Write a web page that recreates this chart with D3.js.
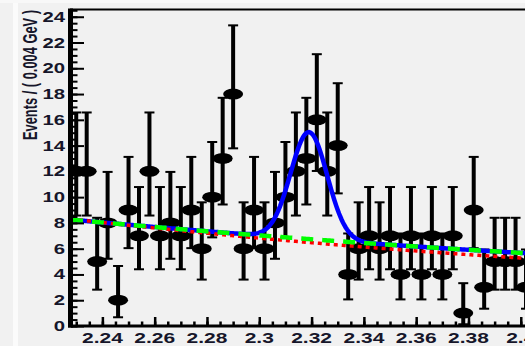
<!DOCTYPE html>
<html>
<head>
<meta charset="utf-8">
<script src="https://cdn.jsdelivr.net/npm/d3@7"></script>
<style>
body { margin: 0; background: #f1f1f1; }
svg { display: block; }
text { font-family: "Liberation Sans", Arial, sans-serif; font-weight: bold; fill: #16162a; }
</style>
</head>
<body>
<svg id="chart" width="525" height="346"></svg>
<script>
// bin centres in GeV (4 MeV bins)
var massBins = [2.230, 2.234, 2.238, 2.242, 2.246, 2.250, 2.254, 2.258, 2.262, 2.266,
                2.270, 2.274, 2.278, 2.282, 2.286, 2.290, 2.294, 2.298, 2.302, 2.306,
                2.310, 2.314, 2.318, 2.322, 2.326, 2.330, 2.334, 2.338, 2.342, 2.346,
                2.350, 2.354, 2.358, 2.362, 2.366, 2.370, 2.374, 2.378, 2.382, 2.386,
                2.390, 2.394, 2.398, 2.402];
// events per bin
var counts = [12, 12, 5, 8, 2, 9, 7, 12, 7, 8,
              7, 9, 6, 10, 13, 18, 6, 9, 6, 8,
              10, 12, 13, 16, 12, 14, 4, 6, 7, 6,
              7, 4, 7, 4, 7, 4, 7, 1, 9, 3,
              5, 5, 5, 3];

var xTicks = [2.24, 2.26, 2.28, 2.30, 2.32, 2.34, 2.36, 2.38, 2.40, 2.42];
var xTickLabels = ["2.24", "2.26", "2.28", "2.3", "2.32", "2.34", "2.36", "2.38", "2.4", "2.42"];
var yTicks = [0, 2, 4, 6, 8, 10, 12, 14, 16, 18, 20, 22, 24];
var yTickLabels = ["0", "2", "4", "6", "8", "10", "12", "14", "16", "18", "20", "22", "24"];

// fit results: gaussian signal on top of a 2nd order background
var sigMean = 2.319, sigWidth = 0.0070, sigAmp = 8.3;
var bgTotal = [8.25, -18.3, 19.3];   // background under the full fit (green)
var bgOnly = [8.3, -22.7, 29.8];     // background-only hypothesis (red)

var width = 525, height = 346;
var svg = d3.select("#chart");

var x_scale = d3.scaleLinear().domain([2.228, 2.428]).range([71, 594]);
var y_scale = d3.scaleLinear().domain([0, 24.6]).range([326, 9]);

function poly(c, m) {
    var t = m - 2.228;
    return c[0] + c[1] * t + c[2] * t * t;
}

function gauss(m) {
    return sigAmp * Math.exp(-0.5 * Math.pow((m - sigMean) / sigWidth, 2));
}

// approximate 68% poisson interval
function errLow(n) { return n > 0 ? n - Math.sqrt(n - 0.25) : 0; }
function errHigh(n) { return n + 1 + Math.sqrt(n + 0.75); }

svg.append("rect").attr("width", width).attr("height", height).attr("fill", "#f1f1f1");
svg.append("rect").attr("x", 13).attr("width", 5).attr("height", height).attr("fill", "#fbfbfb");
svg.append("rect").attr("width", width).attr("height", 3).attr("fill", "#f8f8f8");

svg.append("clipPath").attr("id", "frame").append("rect")
    .attr("x", 71).attr("y", 9).attr("width", 530).attr("height", 317);
var plot = svg.append("g").attr("clip-path", "url(#frame)");

var points = massBins.map(function(m, i) { return {m: m, n: counts[i]}; });

plot.selectAll(".bar").data(points).enter().append("line")
    .attr("class", "bar")
    .attr("x1", function(d) { return x_scale(d.m); })
    .attr("x2", function(d) { return x_scale(d.m); })
    .attr("y1", function(d) { return y_scale(errLow(d.n)); })
    .attr("y2", function(d) { return y_scale(errHigh(d.n)); })
    .attr("stroke", "#000").attr("stroke-width", 4);

["lo", "hi"].forEach(function(end) {
    plot.selectAll(".cap-" + end).data(points).enter().append("line")
        .attr("class", "cap-" + end)
        .attr("x1", function(d) { return x_scale(d.m) - 5; })
        .attr("x2", function(d) { return x_scale(d.m) + 5; })
        .attr("y1", function(d) { return y_scale(end == "lo" ? errLow(d.n) : errHigh(d.n)); })
        .attr("y2", function(d) { return y_scale(end == "lo" ? errLow(d.n) : errHigh(d.n)); })
        .attr("stroke", "#000").attr("stroke-width", 2);
});

plot.selectAll(".marker").data(points).enter().append("ellipse")
    .attr("class", "marker")
    .attr("cx", function(d) { return x_scale(d.m); })
    .attr("cy", function(d) { return y_scale(d.n); })
    .attr("rx", 10).attr("ry", 5.5)
    .attr("fill", "#000");

// fit curves
var samples = d3.range(2.228, 2.430, 0.0005);
var line = d3.line()
    .x(function(d) { return x_scale(d[0]); })
    .y(function(d) { return y_scale(d[1]); });

plot.append("path")
    .attr("d", line(samples.map(function(m) { return [m, poly(bgTotal, m) + gauss(m)]; })))
    .attr("fill", "none").attr("stroke", "#0000ff").attr("stroke-width", 4.5);
plot.append("path")
    .attr("d", line(samples.map(function(m) { return [m, poly(bgOnly, m)]; })))
    .attr("fill", "none").attr("stroke", "#ff0000").attr("stroke-width", 3.5)
    .attr("stroke-dasharray", "4,4");
plot.append("path")
    .attr("d", line(samples.map(function(m) { return [m, poly(bgTotal, m)]; })))
    .attr("fill", "none").attr("stroke", "#00ff00").attr("stroke-width", 4.5)
    .attr("stroke-dasharray", "12,9");

// axes, ticks point into the frame
var yMinor = d3.range(0, 24.6, 0.5);
var xMinor = d3.range(2.230, 2.428, 0.005);

svg.append("g").attr("transform", "translate(71,0)")
    .call(d3.axisLeft(y_scale).tickValues(yMinor).tickSize(-6.5).tickSizeOuter(0).tickFormat(""))
    .call(function(g) { g.select(".domain").remove(); g.selectAll("line").attr("stroke", "#000").attr("stroke-width", 2); });
svg.append("g").attr("transform", "translate(71,0)")
    .call(d3.axisLeft(y_scale).tickValues(yTicks).tickSize(-13).tickSizeOuter(0).tickFormat(""))
    .call(function(g) { g.select(".domain").remove(); g.selectAll("line").attr("stroke", "#000").attr("stroke-width", 2); });

svg.append("g").attr("transform", "translate(0,326)")
    .call(d3.axisBottom(x_scale).tickValues(xMinor).tickSize(-4.5).tickSizeOuter(0).tickFormat(""))
    .call(function(g) { g.select(".domain").remove(); g.selectAll("line").attr("stroke", "#000").attr("stroke-width", 2.5); });
svg.append("g").attr("transform", "translate(0,326)")
    .call(d3.axisBottom(x_scale).tickValues(xTicks).tickSize(-9).tickSizeOuter(0).tickFormat(""))
    .call(function(g) { g.select(".domain").remove(); g.selectAll("line").attr("stroke", "#000").attr("stroke-width", 2.5); });

// frame
svg.append("line").attr("x1", 70).attr("x2", width).attr("y1", 9.5).attr("y2", 9.5)
    .attr("stroke", "#000").attr("stroke-width", 2);
svg.append("line").attr("x1", 70.5).attr("x2", 70.5).attr("y1", 8.5).attr("y2", 327.5)
    .attr("stroke", "#000").attr("stroke-width", 5);
svg.append("line").attr("x1", 68).attr("x2", width).attr("y1", 326).attr("y2", 326)
    .attr("stroke", "#000").attr("stroke-width", 3);

// tick labels (the picture is stretched sideways)
svg.selectAll(".xlab").data(xTicks).enter().append("text")
    .attr("class", "xlab")
    .attr("transform", function(d) { return "translate(" + x_scale(d) + ",343) scale(1.5,1)"; })
    .attr("text-anchor", "middle")
    .attr("font-size", 14)
    .text(function(d, i) { return xTickLabels[i]; });

svg.selectAll(".ylab").data(yTicks).enter().append("text")
    .attr("class", "ylab")
    .attr("transform", function(d) { return "translate(65," + (y_scale(d) + 5) + ") scale(1.45,1)"; })
    .attr("text-anchor", "end")
    .attr("font-size", 14)
    .text(function(d, i) { return yTickLabels[i]; });

svg.append("text")
    .attr("transform", "translate(37,140) scale(1.6,1) rotate(-90)")
    .attr("font-size", 12.5)
    .attr("textLength", 130)
    .attr("lengthAdjust", "spacingAndGlyphs")
    .text("Events / ( 0.004 GeV )");
</script>
</body>
</html>
